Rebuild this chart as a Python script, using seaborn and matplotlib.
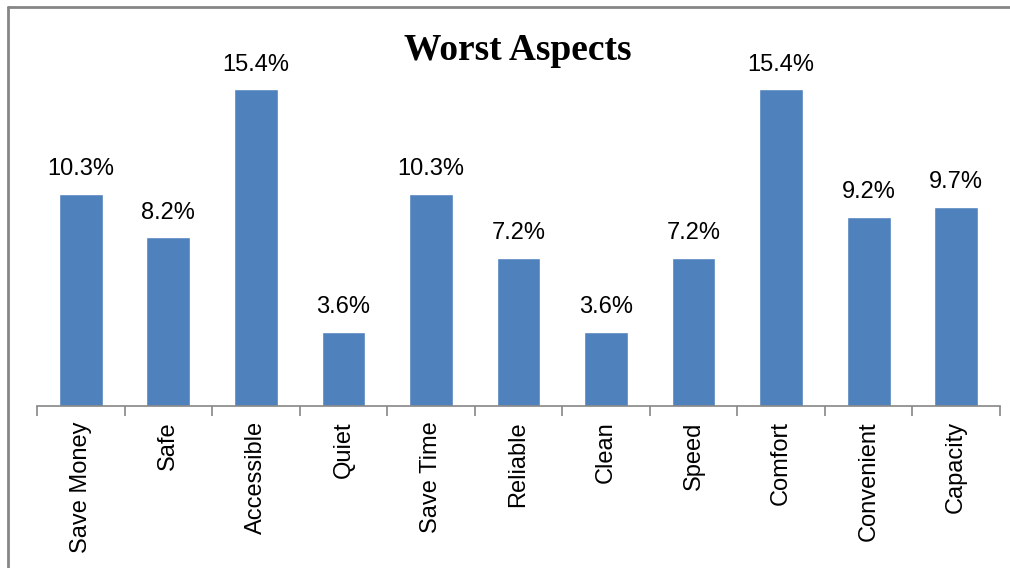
import matplotlib
matplotlib.use("Agg")
import matplotlib.pyplot as plt
import seaborn as sns
import pandas as pd
import numpy as np
from matplotlib.lines import Line2D
from matplotlib.ticker import FixedLocator

categories = ["Save Money", "Safe", "Accessible", "Quiet", "Save Time", "Reliable",
              "Clean", "Speed", "Comfort", "Convenient", "Capacity"]
values = [10.3, 8.2, 15.4, 3.6, 10.3, 7.2, 3.6, 7.2, 15.4, 9.2, 9.7]
title = "Worst Aspects"

df = pd.DataFrame({"aspect": categories, "pct": values})

sns.set_theme(style="white")
plt.rcParams['font.family'] = ['Liberation Sans', 'DejaVu Sans']

W, H = 1010, 568
fig = plt.figure(figsize=(W / 100, H / 100), dpi=100)
ax = fig.add_axes([37 / W, (H - 406) / H, (1000 - 37) / W, (406 - 36) / H])

sns.barplot(data=df, x="aspect", y="pct", color="#4F81BD", width=0.5,
            saturation=1, ax=ax)

ax.set_xlim(-0.5, len(categories) - 0.5)
ax.set_ylim(0, 18)
ax.set_xlabel("")
ax.set_ylabel("")
ax.set_yticks([])
for s in ["top", "right", "left"]:
    ax.spines[s].set_visible(False)
ax.spines["bottom"].set_color("#868686")
ax.spines["bottom"].set_linewidth(1.2)

ax.set_xticks(range(len(categories)))
ax.set_xticklabels(categories, rotation=90, fontsize=17, color="black")
ax.tick_params(axis="x", which="major", length=0, pad=11)
ax.xaxis.set_minor_locator(FixedLocator(np.arange(-0.5, len(categories), 1.0)))
ax.tick_params(axis="x", which="minor", length=7, width=1.2, color="#868686",
               direction="out", bottom=True)

for i, v in enumerate(values):
    ax.annotate(f"{v:.1f}%", (i, v), xytext=(0, 10), textcoords="offset points",
                ha="center", va="bottom", fontsize=17, color="black")

fig.text(518 / W, 1 - 50 / H, title, ha="center", va="center",
         fontsize=27, fontweight="bold", family="Liberation Serif", color="black")

fig.add_artist(Line2D([7.5 / W, 7.5 / W], [0, 1 - 6.5 / H], transform=fig.transFigure,
                      color="#868686", linewidth=2))
fig.add_artist(Line2D([7.5 / W, 1], [1 - 6.5 / H, 1 - 6.5 / H], transform=fig.transFigure,
                      color="#868686", linewidth=2))

fig.savefig("out.png", dpi=100, facecolor="white")
